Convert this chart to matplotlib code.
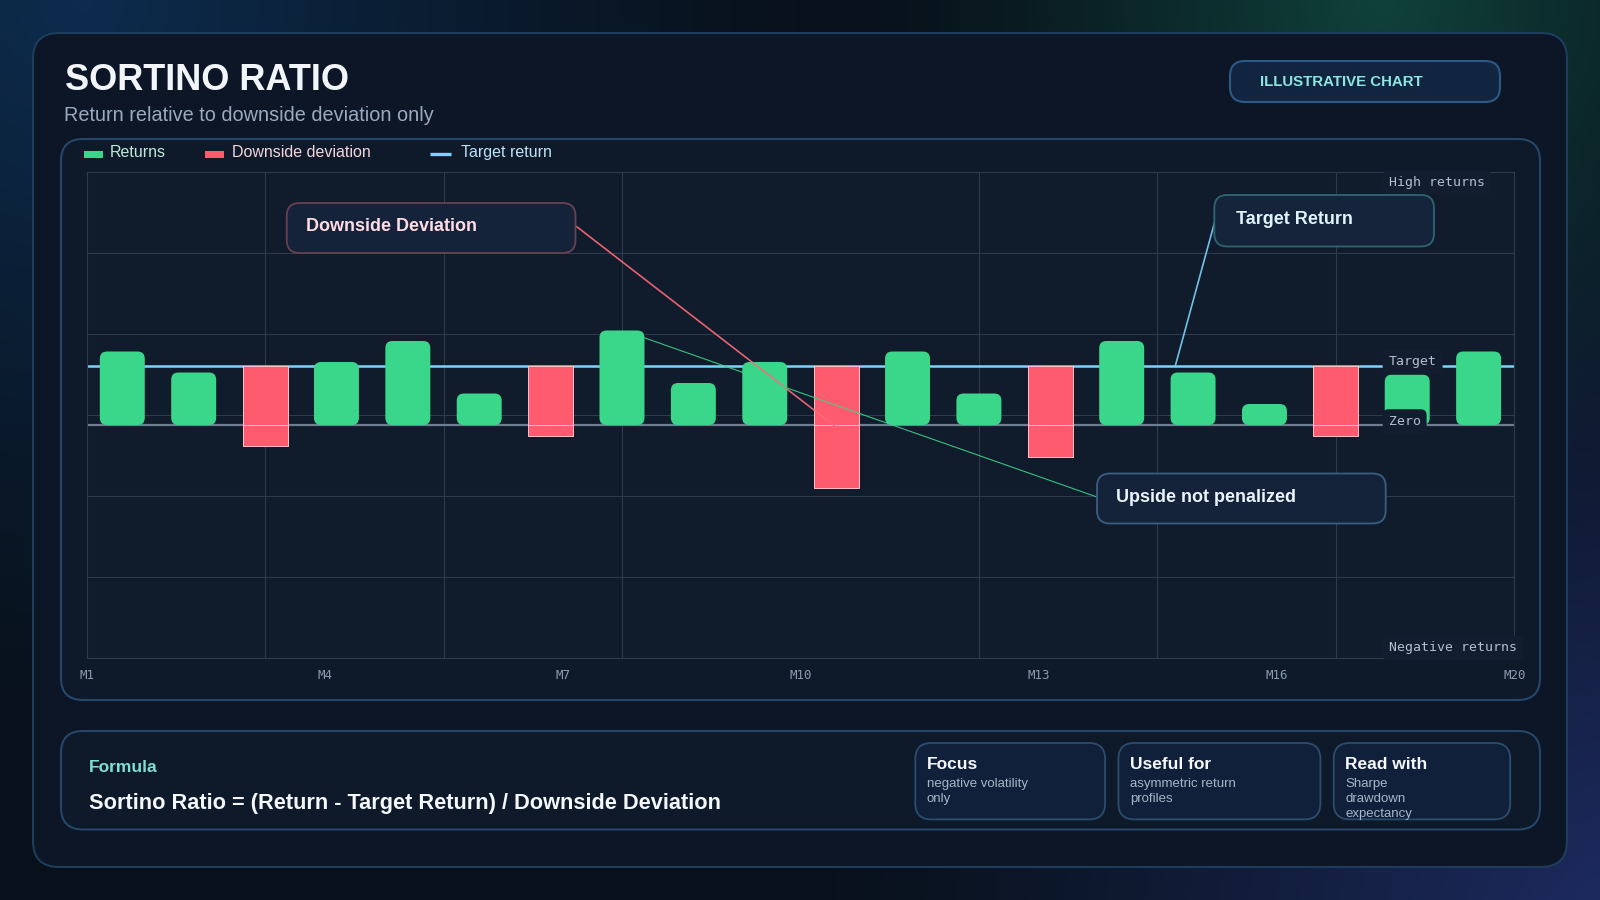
import numpy as np
import matplotlib
matplotlib.use("Agg")
import matplotlib.pyplot as plt
from matplotlib.patches import FancyBboxPatch, Rectangle, ConnectionPatch
from matplotlib.colors import to_rgb
from matplotlib.transforms import blended_transform_factory

plt.rcParams['font.family'] = ['Liberation Sans', 'DejaVu Sans']

# ---- data ----
months = ["M%d" % i for i in range(1, 21)]
returns = [3.5, 2.5, -1.0, 3.0, 4.0, 1.5, -0.5, 4.5, 2.0, 3.0,
           -3.0, 3.5, 1.5, -1.5, 4.0, 2.5, 1.0, -0.5, 2.4, 3.5]
target = 2.8
tick_labels = ["M1", "M4", "M7", "M10", "M13", "M16", "M20"]
legend_labels = ["Returns", "Downside deviation", "Target return"]
card_titles = ["Focus", "Useful for", "Read with"]
card_texts = [["negative volatility", "only"],
              ["asymmetric return", "profiles"],
              ["Sharpe", "drawdown", "expectancy"]]

GREEN = "#3ad68a"
RED = "#ff5b6e"
BLUE = "#7dd3fc"
W, H = 1600, 900

fig = plt.figure(figsize=(16, 9), dpi=100)

# background with soft glows
bg = fig.add_axes([0, 0, 1, 1])
gy, gx = np.mgrid[0:H:4, 0:W:4]
base = np.array(to_rgb("#08111b"))
img = np.zeros(gx.shape + (3,)) + base
for cx, cy, r, col in [(80, 0, 750, "#0d2c4e"), (1380, 0, 520, "#10423b"),
                       (1650, 950, 850, "#1f2d66")]:
    d = np.sqrt((gx - cx) ** 2 + (gy - cy) ** 2) / r
    wgt = np.clip(1 - d, 0, 1) ** 1.3
    img += wgt[..., None] * (np.array(to_rgb(col)) - base)
bg.imshow(np.clip(img, 0, 1), extent=(0, W, H, 0), aspect="auto", interpolation="bilinear")
bg.set_xlim(0, W)
bg.set_ylim(H, 0)
bg.axis("off")


def rbox(a, x0, y0, x1, y1, r, fc, ec, lw=1.5, z=1):
    p = FancyBboxPatch((x0, y0), x1 - x0, y1 - y0,
                       boxstyle="round,pad=0,rounding_size=%g" % r,
                       fc=fc, ec=ec, lw=lw, zorder=z)
    a.add_patch(p)


rbox(bg, 33, 33, 1567, 867, 26, "#0c1626", "#1e3d5c", 1.5)
rbox(bg, 61, 139, 1540, 700, 22, "#0e192a", "#24476a", 1.5)
rbox(bg, 61, 731, 1540, 829.5, 22, "#0e192a", "#24476a", 1.5)
rbox(bg, 1230, 61, 1500, 102, 15, "#112540", "#2b5a84", 1.5)

bg.text(65, 90, "SORTINO RATIO", fontsize=26, fontweight="bold", color="#f2f6fb", va="baseline")
bg.text(64, 120.7, "Return relative to downside deviation only", fontsize=14.35,
        color="#9aabc0", va="baseline")
bg.text(1260, 86.5, "ILLUSTRATIVE CHART", fontsize=10.8, fontweight="bold",
        color="#8ee6e0", va="baseline")

# legend
bg.add_patch(Rectangle((84, 150.7), 19, 7.6, fc=GREEN, ec="none"))
bg.add_patch(Rectangle((205, 150.7), 19, 7.6, fc=RED, ec="none"))
bg.plot([430, 450.7], [154.3, 154.3], color=BLUE, lw=2.4, solid_capstyle="butt")
for xt, lab, col in zip([110, 231.7, 460.7], legend_labels, ["#bfead6", "#f3d6dc", "#bde4f7"]):
    bg.text(xt, 157.3, lab, fontsize=11.5, color=col, va="baseline")

# formula panel
bg.text(89, 772.3, "Formula", fontsize=12.5, fontweight="bold", color="#7fe0d0", va="baseline")
bg.text(89, 809.5, "Sortino Ratio = (Return - Target Return) / Downside Deviation",
        fontsize=15.65, fontweight="bold", color="#f4f8fc", va="baseline")
card_x = [(915.3, 1105.1), (1118.4, 1320.4), (1333.7, 1510.2)]
for (cx0, cx1), ttl, lines in zip(card_x, card_titles, card_texts):
    rbox(bg, cx0, 743, cx1, 819.4, 16, "#10203a", "#2b4d6e", 1.3)
    bg.text(cx0 + 11.5, 769, ttl, fontsize=12.5, fontweight="bold", color="#f4f8fc", va="baseline")
    for k, ln in enumerate(lines):
        bg.text(cx0 + 11.5, 787.3 + 15 * k, ln, fontsize=9.5, color="#a6b6c8", va="baseline")

# ---- plot ----
L, R, T, B = 86.6, 1514.3, 172.3, 658.2
ax = fig.add_axes([L / W, 1 - B / H, (R - L) / W, (B - T) / H])
ax.set_facecolor("#101b2b")
ylo, yhi = -11.1, 12.03
ax.set_xlim(0, len(returns))
ax.set_ylim(ylo, yhi)

ax.set_xticks(np.linspace(0, len(returns), 9), minor=True)
ax.set_yticks(np.linspace(ylo, yhi, 7), minor=True)
ax.set_yticks([])
ax.set_xticks(np.linspace(0, len(returns), 7))
ax.set_xticklabels(tick_labels, family="DejaVu Sans Mono", fontsize=9, color="#8a9bb0")
ax.tick_params(which="both", length=0, pad=7.5)
ax.grid(which="minor", color="#2d3b4e", lw=0.8)
ax.set_axisbelow(True)
for s in ax.spines.values():
    s.set_color("#2d3b4e")
    s.set_linewidth(0.8)

ax.axhline(0, color="#6f7d90", lw=1.6, zorder=2)
ax.axhline(target, color=BLUE, lw=1.8, zorder=2)

xs = np.arange(len(returns)) + 0.5
bw = 0.63
aspect = ((R - L) / len(returns)) / ((B - T) / (yhi - ylo))
for xi, v in zip(xs, returns):
    if v >= 0:
        ax.add_patch(FancyBboxPatch((xi - bw / 2, 0), bw, v,
                                    boxstyle="round,pad=0,rounding_size=0.1",
                                    mutation_aspect=aspect, fc=GREEN, ec="none", zorder=3))
neg = [i for i, v in enumerate(returns) if v < 0]
ax.bar(xs[neg], [target] * len(neg), width=bw, bottom=0, color=RED,
       edgecolor="#ffc3cb", lw=0.7, zorder=3)
ax.bar(xs[neg], [returns[i] for i in neg], width=bw, bottom=0, color=RED,
       edgecolor="#ffc3cb", lw=0.7, zorder=3)

lab = dict(family="DejaVu Sans Mono", fontsize=9.5, color="#b3bfcc", ha="left", va="center",
           zorder=6, bbox=dict(boxstyle="round,pad=0.45", fc="#121e2f", ec="none"))
bt = blended_transform_factory(ax.transAxes, ax.transData)
ax.text(0.912, 0.9786, "High returns", transform=ax.transAxes, **lab)
ax.text(0.912, target + 0.2, "Target", transform=bt, **lab)
ax.text(0.912, 0.16, "Zero", transform=bt, **lab)
ax.text(0.912, 0.021, "Negative returns", transform=ax.transAxes, **lab)

# ---- callouts ----
ov = fig.add_axes([0, 0, 1, 1])
ov.patch.set_alpha(0)
ov.set_xlim(0, W)
ov.set_ylim(H, 0)
ov.axis("off")

rbox(ov, 286.7, 203, 575.5, 253, 13, "#15233a", "#6a4150", 1.3)
ov.text(306, 226.7, "Downside Deviation", fontsize=13, fontweight="bold", color="#ffdce3", va="center")
rbox(ov, 1214.3, 195, 1434, 246.5, 13, "#15243a", "#2e6670", 1.3)
ov.text(1236, 219.5, "Target Return", fontsize=13, fontweight="bold", color="#dff3ff", va="center")
rbox(ov, 1097, 473.5, 1385.7, 523.5, 13, "#15233a", "#3b5f80", 1.3)
ov.text(1116, 497.5, "Upside not penalized", fontsize=13, fontweight="bold", color="#eaf4ff", va="center")

for pa, pb, col, lw in [((576.5, 226.5), (xs[10], -0.1), "#ff6b7a", 1.2),
                        ((1097, 497), (xs[7] + bw / 2, returns[7] - 0.35), GREEN, 0.8),
                        ((1215.7, 218.3), (xs[14] + 0.75, target), BLUE, 1.2)]:
    con = ConnectionPatch(xyA=pa, coordsA=ov.transData, xyB=pb, coordsB=ax.transData,
                          color=col, lw=lw, alpha=0.9, zorder=5)
    con.set_clip_on(False)
    ax.add_artist(con)

fig.savefig("out.png", dpi=100)
